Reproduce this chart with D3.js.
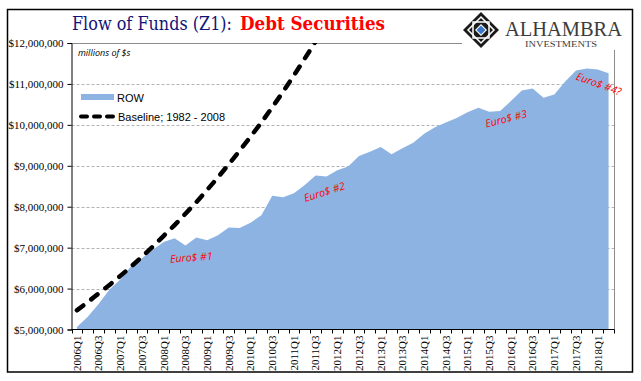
<!DOCTYPE html>
<html>
<head>
<meta charset="utf-8">
<script src="https://cdn.jsdelivr.net/npm/d3@7"></script>
<style>
  body { margin: 0; background: #fff; }
  svg { display: block; }
</style>
</head>
<body>
<svg id="chart" width="641" height="381"></svg>
<script>
// quarters on the category axis
var quarters = [
    "2006Q1", "2006Q2", "2006Q3", "2006Q4", "2007Q1", "2007Q2", "2007Q3", "2007Q4",
    "2008Q1", "2008Q2", "2008Q3", "2008Q4", "2009Q1", "2009Q2", "2009Q3", "2009Q4",
    "2010Q1", "2010Q2", "2010Q3", "2010Q4", "2011Q1", "2011Q2", "2011Q3", "2011Q4",
    "2012Q1", "2012Q2", "2012Q3", "2012Q4", "2013Q1", "2013Q2", "2013Q3", "2013Q4",
    "2014Q1", "2014Q2", "2014Q3", "2014Q4", "2015Q1", "2015Q2", "2015Q3", "2015Q4",
    "2016Q1", "2016Q2", "2016Q3", "2016Q4", "2017Q1", "2017Q2", "2017Q3", "2017Q4",
    "2018Q1", "2018Q2"
];

// ROW holdings of debt securities, millions of $
var rowValues = [
    5060000, 5310000, 5620000, 5980000, 6220000, 6550000, 6740000, 6950000,
    7140000, 7230000, 7050000, 7250000, 7180000, 7300000, 7490000, 7480000,
    7610000, 7790000, 8270000, 8230000, 8330000, 8530000, 8760000, 8740000,
    8890000, 8980000, 9240000, 9340000, 9460000, 9280000, 9430000, 9560000,
    9780000, 9940000, 10060000, 10170000, 10310000, 10420000, 10320000, 10340000,
    10580000, 10840000, 10890000, 10660000, 10740000, 11060000, 11330000, 11380000,
    11350000, 11260000
];

// 1982 - 2008 trend, runs off the top of the chart
var baselineValues = [
    5470000, 5670000, 5880000, 6090000, 6310000, 6540000, 6780000, 7030000,
    7290000, 7550000, 7830000, 8110000, 8410000, 8720000, 9040000, 9370000,
    9710000, 10060000, 10430000, 10810000, 11210000, 11620000, 12040000, 12480000
];

var yTicks = [5000000, 6000000, 7000000, 8000000, 9000000, 10000000, 11000000, 12000000];

var annotations = [
    { text: "Euro$ #1", quarter: "2008Q4", value: 6760000, dx: -5, angle: -4 },
    { text: "Euro$ #2", quarter: "2011Q4", value: 8360000, dx: -2, angle: -18 },
    { text: "Euro$ #3", quarter: "2015Q4", value: 10150000, dx: 6, angle: -14 },
    { text: "Euro$ #4?", quarter: "2018Q1", value: 11000000, dx: 1, angle: 20 }
];

var svg = d3.select("#chart");

var plot = { left: 71.5, right: 614, top: 43, bottom: 329.5 };

var x = d3.scaleBand().domain(quarters).range([plot.left, plot.right]);
var y = d3.scaleLinear().domain([5000000, 12000000]).range([plot.bottom, plot.top]);
var cx = function (q) { return x(q) + x.bandwidth() / 2; };

svg.append("defs").append("clipPath").attr("id", "plotclip")
    .append("rect")
    .attr("x", plot.left).attr("y", plot.top)
    .attr("width", plot.right - plot.left).attr("height", plot.bottom - plot.top);

// gridlines
svg.append("g").selectAll("line")
    .data(yTicks.filter(function (d) { return d > 5000000 && d < 12000000; }))
    .join("line")
    .attr("x1", plot.left).attr("x2", plot.right)
    .attr("y1", function (d) { return Math.round(y(d)) + 0.5; })
    .attr("y2", function (d) { return Math.round(y(d)) + 0.5; })
    .attr("stroke", "#b4b4b4")
    .attr("stroke-dasharray", "3,2");

// plot border, top and right
svg.append("path")
    .attr("d", "M" + plot.left + "," + (plot.top + 0.5) + "H" + (plot.right + 0.5) + "V" + plot.bottom)
    .attr("fill", "none")
    .attr("stroke", "#8c8c8c");

// ROW area
var area = d3.area()
    .x(function (d, i) { return cx(quarters[i]); })
    .y0(y(5000000))
    .y1(function (d) { return y(d); });

svg.append("path")
    .datum(rowValues)
    .attr("d", area)
    .attr("fill", "#8db3e2");

// baseline trend
var line = d3.line()
    .x(function (d, i) { return cx(quarters[i]); })
    .y(function (d) { return y(d); })
    .curve(d3.curveMonotoneX);

svg.append("path")
    .datum(baselineValues)
    .attr("d", line)
    .attr("clip-path", "url(#plotclip)")
    .attr("fill", "none")
    .attr("stroke", "#000")
    .attr("stroke-width", 4.5)
    .attr("stroke-linecap", "round")
    .attr("stroke-dasharray", "8,10");

// y axis
var yAxis = svg.append("g")
    .attr("transform", "translate(" + plot.left + ",0)")
    .call(d3.axisLeft(y).tickValues(yTicks).tickSize(4).tickPadding(4).tickFormat(d3.format("$,")));
yAxis.select(".domain").attr("stroke", "#000");
yAxis.selectAll(".tick line").attr("stroke", "#000");
yAxis.selectAll("text")
    .attr("fill", "#000")
    .style("font-family", "'Liberation Serif', serif")
    .style("font-size", "11px");

// x axis: labels every other quarter, tick marks at band edges
var xAxis = svg.append("g")
    .attr("transform", "translate(0," + plot.bottom + ")")
    .call(d3.axisBottom(x)
        .tickValues(quarters.filter(function (d, i) { return i % 2 === 0; }))
        .tickSize(0));
xAxis.select(".domain").remove();
xAxis.selectAll("text")
    .attr("transform", "rotate(-90)")
    .attr("x", -6).attr("y", 0).attr("dy", "0.35em")
    .attr("fill", "#000")
    .style("text-anchor", "end")
    .style("font-family", "'Liberation Serif', serif")
    .style("font-size", "11px");

var edges = quarters.map(function (q) { return x(q); }).concat([plot.right]);
xAxis.append("g").selectAll("line")
    .data(edges)
    .join("line")
    .attr("x1", function (d) { return Math.round(d) + 0.5; })
    .attr("x2", function (d) { return Math.round(d) + 0.5; })
    .attr("y1", 0).attr("y2", 4)
    .attr("stroke", "#000");
xAxis.append("line")
    .attr("x1", plot.left - 0.5).attr("x2", plot.right + 0.5)
    .attr("y1", 0).attr("y2", 0)
    .attr("stroke", "#000");

// annotations
svg.append("g").selectAll("text")
    .data(annotations)
    .join("text")
    .attr("transform", function (d) {
        return "translate(" + (cx(d.quarter) + d.dx) + "," + y(d.value) + ") rotate(" + d.angle + ")";
    })
    .attr("text-anchor", "middle")
    .attr("dy", "0.35em")
    .attr("fill", "#ff0000")
    .style("font-family", "'Open Sans', sans-serif")
    .style("font-style", "italic")
    .style("font-size", "10.5px")
    .text(function (d) { return d.text; });

// units note
svg.append("text")
    .attr("x", 78).attr("y", 55.5)
    .style("font-family", "'Open Sans', sans-serif")
    .style("font-style", "italic")
    .style("font-size", "9px")
    .attr("fill", "#000")
    .text("millions of $s");

// legend
var legend = svg.append("g").style("font-family", "'Liberation Sans', Arial, sans-serif").style("font-size", "11px");
legend.append("rect").attr("x", 81).attr("y", 94).attr("width", 33).attr("height", 6).attr("fill", "#8db3e2");
legend.append("text").attr("x", 117).attr("y", 101.5).text("ROW");
legend.append("line")
    .attr("x1", 81).attr("x2", 115).attr("y1", 116.5).attr("y2", 116.5)
    .attr("stroke", "#000").attr("stroke-width", 4)
    .attr("stroke-linecap", "round").attr("stroke-dasharray", "6,7");
legend.append("text").attr("x", 118).attr("y", 120.5).text("Baseline; 1982 - 2008");

// logo block covers the top right of the plot frame
svg.append("rect").attr("x", 462).attr("y", 10).attr("width", 170).attr("height", 40).attr("fill", "#fff");

var logo = svg.append("g").attr("transform", "translate(481,30)");
logo.append("polygon").attr("points", "0,-18 18,0 0,18 -18,0").attr("fill", "#1a1a1a");
logo.append("polygon").attr("points", "0,-13 13,0 0,13 -13,0")
    .attr("fill", "none").attr("stroke", "#fff").attr("stroke-width", 1.5);
logo.append("rect").attr("x", -8).attr("y", -8).attr("width", 16).attr("height", 16)
    .attr("fill", "none").attr("stroke", "#fff").attr("stroke-width", 1.5);
logo.append("polygon").attr("points", "0,-6 6,0 0,6 -6,0").attr("fill", "#fff");
logo.append("polygon").attr("points", "0,-4.5 4.5,0 0,4.5 -4.5,0").attr("fill", "#3b78c9");

svg.append("text")
    .attr("x", 505).attr("y", 36)
    .attr("textLength", 117).attr("lengthAdjust", "spacingAndGlyphs")
    .style("font-family", "'Liberation Serif', serif")
    .style("font-size", "21px")
    .attr("fill", "#3c3c3c")
    .text("ALHAMBRA");
svg.append("text")
    .attr("x", 525).attr("y", 47)
    .attr("textLength", 72).attr("lengthAdjust", "spacingAndGlyphs")
    .style("font-family", "'Liberation Serif', serif")
    .style("font-size", "8px")
    .attr("fill", "#3c3c3c")
    .text("INVESTMENTS");

// title
svg.append("text")
    .attr("x", 72).attr("y", 29.5)
    .attr("textLength", 160).attr("lengthAdjust", "spacingAndGlyphs")
    .style("font-family", "'DejaVu Serif', serif")
    .style("font-size", "18px")
    .attr("fill", "#141478")
    .text("Flow of Funds (Z1):");
svg.append("text")
    .attr("x", 240).attr("y", 29.5)
    .attr("textLength", 145).attr("lengthAdjust", "spacingAndGlyphs")
    .style("font-family", "'DejaVu Serif', serif")
    .style("font-weight", "bold")
    .style("font-size", "18px")
    .attr("fill", "#ff0000")
    .text("Debt Securities");

// outer frame
svg.append("rect")
    .attr("x", 7.5).attr("y", 9.5).attr("width", 625).attr("height", 362.5)
    .attr("fill", "none").attr("stroke", "#000").attr("stroke-width", 1.5);
</script>
</body>
</html>
